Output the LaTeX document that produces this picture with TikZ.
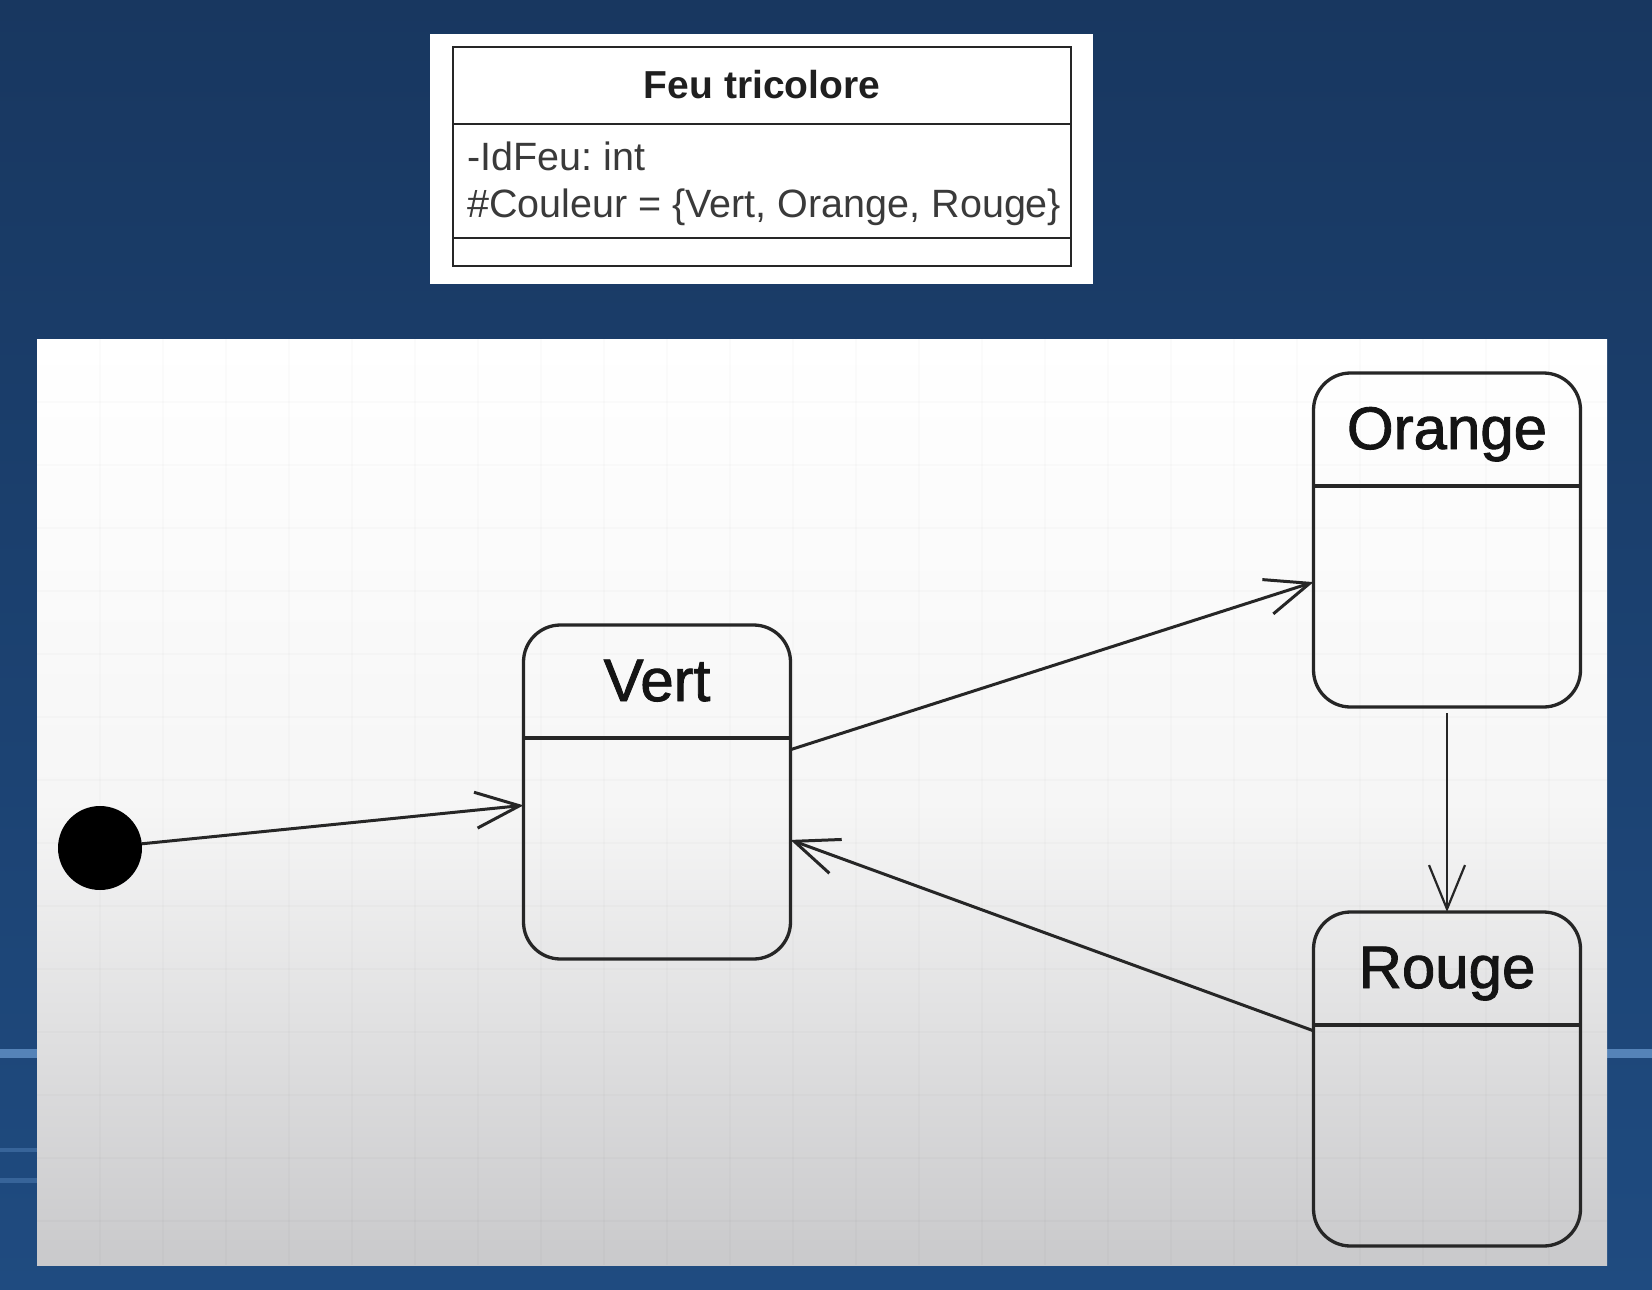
\documentclass[tikz,border=0pt]{standalone}
\usepackage{fontspec}
\setmainfont{Liberation Sans}
\newfontfamily\statefont[FakeBold=1.5]{Liberation Sans}
\usetikzlibrary{arrows.meta}
\frenchspacing

\definecolor{navytop}{HTML}{183760}
\definecolor{navybot}{HTML}{1F4B80}
\definecolor{stripe}{HTML}{5583B8}
\definecolor{panelmid}{HTML}{F6F6F6}
\definecolor{panelbot}{HTML}{C9C9CB}
\definecolor{umlline}{HTML}{262626}
\definecolor{attrgray}{HTML}{3A3A3A}

\tikzset{
  state/.style={draw=umlline, line width=3.3pt, rounded corners=37pt, minimum width=267pt, minimum height=334pt, inner sep=0pt, outer sep=0pt},
  statename/.style={anchor=base, inner sep=0pt, text=black!92, font=\statefont\fontsize{60}{70}\selectfont},
  initial/.style={circle, fill=black, minimum size=84pt, inner sep=0pt, outer sep=0pt},
  trans/.style={draw=umlline, line width=3pt, -{Straight Barb[length=44pt,width=36pt]}},
  classframe/.style={draw=umlline, line width=2.4pt, minimum width=618pt, minimum height=219pt, inner sep=0pt, outer sep=0pt},
  attr/.style={anchor=base west, inner sep=0pt, text=attrgray, font=\fontsize{39.5}{47}\selectfont}
}

\begin{document}
\begin{tikzpicture}[x=1pt,y=-1pt]
\useasboundingbox (0,0) rectangle (1652,1290);
% backdrop
\shade [top color=navytop, bottom color=navybot] (0,0) rectangle (1652,1290);
\fill [stripe] (0,1049) rectangle (37,1058);
\fill [stripe] (1607,1049) rectangle (1652,1058);
\fill [stripe!45!navybot] (0,1148) rectangle (37,1152);
\fill [stripe!45!navybot] (0,1178) rectangle (37,1183);

% class box
\fill [white] (430,34) rectangle (1093,284);
\node [classframe] (feu) at (762,156.5) {};
\draw [umlline, line width=2.4pt] ([yshift=-77pt]feu.north west) -- ([yshift=-77pt]feu.north east);
\draw [umlline, line width=2.4pt] ([yshift=-191pt]feu.north west) -- ([yshift=-191pt]feu.north east);
\node [anchor=base, inner sep=0pt, text=black!88, font=\fontsize{39}{47}\selectfont\bfseries] (feu-title) at (762,98) {Feu tricolore};
\node [attr] (feu-id) at (467,170) {-IdFeu: int};
\node [attr] (feu-couleur) at (467,217) {\#Couleur = \{Vert, Orange, Rouge\}};

% state panel
\shade [top color=white, bottom color=panelbot, middle color=panelmid] (37,339) rectangle (1607,1265);
\foreach \gx in {100,163,...,1600}
  \draw [black, opacity=0.015, line width=1.5pt] (\gx,339) -- (\gx,1265);
\foreach \gy in {402,465,...,1265}
  \draw [black, opacity=0.015, line width=1.5pt] (37,\gy) -- (1607,\gy);

\node [initial] (init) at (100,848) {};
\foreach \n/\x/\y/\t in {vert/657/792/Vert, orange/1447/540/Orange, rouge/1447/1079/Rouge}
{
  \node [state] (\n) at (\x,\y) {};
  \node [statename] (\n-name) at ([yshift=-76pt]\n.north) {\t};
  \draw [umlline, line width=3.3pt] ([yshift=-113pt]\n.north west) -- ([yshift=-113pt]\n.north east);
}

% transitions
\draw [trans] (init) -- (vert);
\draw [trans] (vert) -- (orange);
\draw [trans, line width=2.2pt, shorten <=6pt] (orange) -- (rouge);
\draw [trans] (rouge) -- (vert);
\end{tikzpicture}
\end{document}
